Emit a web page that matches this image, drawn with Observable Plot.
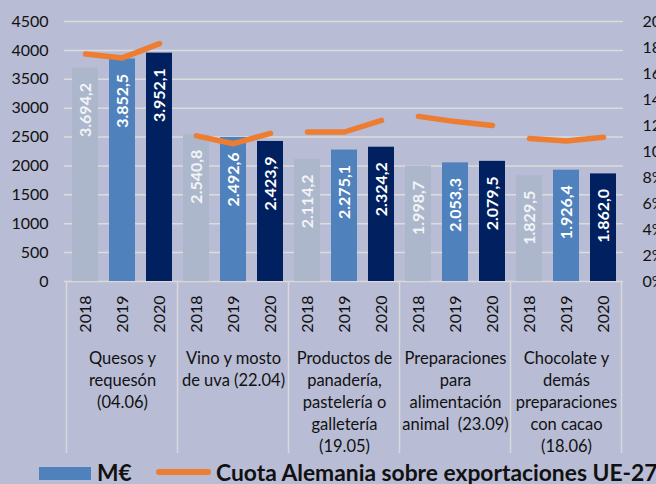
<!DOCTYPE html>
<html>
<head>
<meta charset="utf-8">
<script src="https://cdn.jsdelivr.net/npm/d3@7"></script>
<script src="https://cdn.jsdelivr.net/npm/@observablehq/plot@0.6"></script>
<style>
  html, body { margin: 0; padding: 0; background: #b8bcd4; }
  body { width: 656px; height: 484px; overflow: hidden; font-family: Lato, "Open Sans", sans-serif; }
  #chart svg { display: block; background: #b8bcd4; }
  #legend { position: relative; height: 24px; overflow: hidden; white-space: nowrap; color: #111; font-weight: bold; font-size: 22.8px; }
  #legend .sw { position: absolute; }
  #legend .tx { position: absolute; top: 0px; line-height: 24px; }
</style>
</head>
<body>
<div id="chart"></div>
<div id="legend">
  <div class="sw" style="left:39px; top:7px; width:52px; height:13px; background:#4f81bd;"></div>
  <div class="tx" style="left:97px;">M€</div>
  <div class="sw" style="left:156px; top:9px; width:55px; height:6px; border-radius:3px; background:#ed7d31;"></div>
  <div class="tx" style="left:216px;">Cuota Alemania sobre exportaciones UE-27</div>
</div>
<script>
// ---- data ----
const categories = [
  "Quesos y\nrequesón\n(04.06)",
  "Vino y mosto\nde uva (22.04)",
  "Productos de\npanadería,\npastelería o\ngalletería\n(19.05)",
  "Preparaciones\npara\nalimentación\nanimal  (23.09)",
  "Chocolate y\ndemás\npreparaciones\ncon cacao\n(18.06)"
];
const years = ["2018", "2019", "2020"];
const exports2018 = [3694.2, 2540.8, 2114.2, 1998.7, 1829.5];
const exports2019 = [3852.5, 2492.6, 2275.1, 2053.3, 1926.4];
const exports2020 = [3952.1, 2423.9, 2324.2, 2079.5, 1862.0];
const share2018 = [17.5, 11.2, 11.5, 12.7, 11.0];
const share2019 = [17.2, 10.6, 11.5, 12.3, 10.8];
const share2020 = [18.3, 11.4, 12.4, 12.0, 11.1];
const leftTicks = [0, 500, 1000, 1500, 2000, 2500, 3000, 3500, 4000, 4500];
const rightTicks = [0, 2, 4, 6, 8, 10, 12, 14, 16, 18, 20];

// ---- build table ----
const valuesByYear = {"2018": exports2018, "2019": exports2019, "2020": exports2020};
const shareByYear = {"2018": share2018, "2019": share2019, "2020": share2020};
const rows = [];
categories.forEach((c, i) => {
  years.forEach(y => {
    rows.push({cat: c, ci: i, year: y, key: i + "|" + y, value: valuesByYear[y][i], share: shareByYear[y][i]});
  });
});
const keys = rows.map(d => d.key);
const leftMax = 4500, rightMax = 20;
const toLeft = p => p * leftMax / rightMax;

const loc = d3.formatLocale({decimal: ",", thousands: ".", grouping: [3], currency: ["", "€"]});
const fmt = loc.format(",.1f");

const barColors = {"2018": "#adb7cb", "2019": "#4f81bd", "2020": "#002060"};
const labelColors = {"2018": "#f2f4f8", "2019": "#ffffff", "2020": "#ffffff"};

// separators between category groups, drawn below the plot through the x scale
function separators(index, scales, values, dimensions) {
  const x = scales.x;
  const bw = typeof x.bandwidth === "function" ? x.bandwidth() : x.bandwidth;
  const step = typeof x.step === "function" ? x.step() : x.step;
  const gap = step - bw;
  const y0 = dimensions.height - dimensions.marginBottom + 1;
  const y1 = y0 + 171;
  const g = d3.create("svg:g").attr("stroke", "#d9d9d9").attr("stroke-width", 1.5);
  const edges = [];
  categories.forEach((c, i) => edges.push(x(i + "|2018") - gap / 2));
  edges.push(x((categories.length - 1) + "|2020") + bw + gap / 2);
  edges.forEach(e => g.append("line").attr("x1", e).attr("x2", e).attr("y1", y0).attr("y2", y1));
  return g.node();
}

const plot = Plot.plot({
  width: 656,
  height: 460,
  marginTop: 21,
  marginBottom: 179,
  marginLeft: 64,
  marginRight: 33,
  style: {fontFamily: "Lato, 'Open Sans', sans-serif", background: "#b8bcd4", color: "#111", overflow: "visible"},
  x: {domain: keys, paddingInner: 0.3, paddingOuter: 0.15, axis: null},
  y: {domain: [0, leftMax], axis: null},
  marks: [
    Plot.gridY(leftTicks.slice(1), {stroke: "#dcdcdc", strokeOpacity: 1, strokeWidth: 1.5}),
    Plot.ruleY([0], {stroke: "#d9d9d9", strokeWidth: 1.5}),
    Plot.axisY(leftTicks, {anchor: "left", tickSize: 0, tickPadding: 16, fontSize: 16, label: null, tickFormat: d => String(d)}),
    Plot.axisY(rightTicks.map(toLeft), {anchor: "right", tickSize: 0, tickPadding: 19, fontSize: 16, label: null, tickFormat: d => Math.round(d * rightMax / leftMax) + "%"}),
    Plot.barY(rows, {x: "key", y: "value", fill: d => barColors[d.year]}),
    Plot.text(rows, {x: "key", y: "value", text: d => fmt(d.value), rotate: -90, textAnchor: "end", dy: 15, fill: d => labelColors[d.year], fontWeight: "bold", fontSize: 16, style: "letter-spacing:1px"}),
    Plot.line(rows, {x: "key", y: d => toLeft(d.share), z: "cat", stroke: "#ed7d31", strokeWidth: 5.5, strokeLinecap: "round", strokeLinejoin: "round"}),
    Plot.axisX(keys, {anchor: "bottom", tickSize: 0, tickPadding: 14, tickRotate: -90, fontSize: 16, tickFormat: d => d.split("|")[1], label: null}),
    Plot.text(rows.filter(d => d.year === "2019"), {x: "key", y: 0, text: "cat", dy: 67, lineAnchor: "top", lineHeight: 1.33, fontSize: 16.5, fill: "#111"}),
    separators
  ]
});
document.getElementById("chart").appendChild(plot);
</script>
</body>
</html>
